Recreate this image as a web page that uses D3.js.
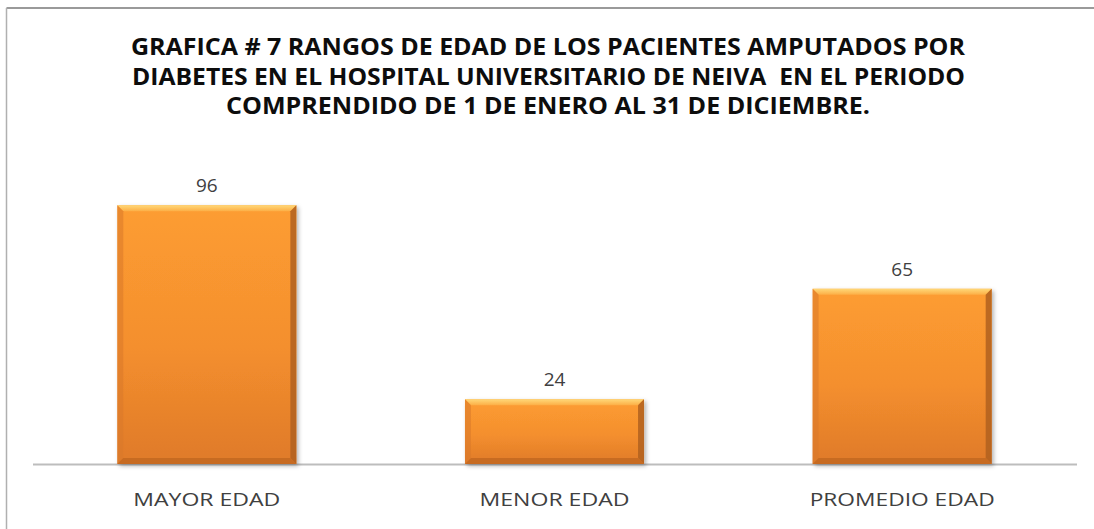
<!DOCTYPE html>
<html>
<head>
<meta charset="utf-8">
<script src="https://cdn.jsdelivr.net/npm/d3@7"></script>
<style>
  body { margin: 0; background: #fff; }
  svg { display: block; }
</style>
</head>
<body>
<div id="chart"></div>
<script>
// data
var categories = ["MAYOR EDAD", "MENOR EDAD", "PROMEDIO EDAD"];
var values = [96, 24, 65];
var titleLines = [
  "GRAFICA # 7 RANGOS DE EDAD DE LOS PACIENTES AMPUTADOS POR",
  "DIABETES EN EL HOSPITAL UNIVERSITARIO DE NEIVA  EN EL PERIODO",
  "COMPRENDIDO DE 1 DE ENERO AL 31 DE DICIEMBRE."
];
var yMax = 120;

var W = 1094, H = 529;
var base = 464;
var font = "'Open Sans', 'DejaVu Sans', sans-serif";

var svg = d3.select("#chart").append("svg")
  .attr("width", W)
  .attr("height", H);

var defs = svg.append("defs");

// body gradient
var g1 = defs.append("linearGradient").attr("id", "body")
  .attr("x1", 0).attr("y1", 0).attr("x2", 0).attr("y2", 1);
g1.append("stop").attr("offset", "0%").attr("stop-color", "#fd9d31");
g1.append("stop").attr("offset", "55%").attr("stop-color", "#f48f2e");
g1.append("stop").attr("offset", "100%").attr("stop-color", "#df7a29");

var g2 = defs.append("linearGradient").attr("id", "bevTop")
  .attr("x1", 0).attr("y1", 0).attr("x2", 0).attr("y2", 1);
g2.append("stop").attr("offset", "0%").attr("stop-color", "#ffd878");
g2.append("stop").attr("offset", "100%").attr("stop-color", "#fcae45");

var shadow = defs.append("filter").attr("id", "shadow")
  .attr("x", "-10%").attr("y", "-10%").attr("width", "125%").attr("height", "125%");
shadow.append("feDropShadow")
  .attr("dx", 2).attr("dy", 2).attr("stdDeviation", 2)
  .attr("flood-color", "#000").attr("flood-opacity", 0.3);

// frame (only top and left edges show)
svg.append("line")
  .attr("x1", 6.5).attr("y1", 8).attr("x2", W).attr("y2", 8)
  .attr("stroke", "#9a9a9a").attr("stroke-width", 2);
svg.append("line")
  .attr("x1", 6.5).attr("y1", 8).attr("x2", 6.5).attr("y2", H)
  .attr("stroke", "#b0b0b0").attr("stroke-width", 1.5);

// title
var titleX = [[131, 965], [132, 965], [226, 870]];
var titleY = [55, 85, 114];
svg.selectAll("text.title")
  .data(titleLines)
  .enter().append("text")
  .attr("class", "title")
  .attr("x", function(d, i) { return titleX[i][0]; })
  .attr("y", function(d, i) { return titleY[i]; })
  .attr("textLength", function(d, i) { return titleX[i][1] - titleX[i][0]; })
  .attr("lengthAdjust", "spacingAndGlyphs")
  .style("font-family", font)
  .style("font-weight", "bold")
  .style("font-size", "23.5px")
  .style("fill", "#0d0d0d")
  .style("white-space", "pre")
  .text(function(d) { return d; });

var x = d3.scaleBand()
  .domain(categories)
  .range([33, 1076])
  .paddingInner(0.485)
  .paddingOuter(0.2425);

var y = d3.scaleLinear()
  .domain([0, yMax])
  .range([base, base - yMax * 2.695]);

// baseline
svg.append("line")
  .attr("x1", 33).attr("x2", 1077)
  .attr("y1", base + 0.5).attr("y2", base + 0.5)
  .attr("stroke", "#bdbdbd").attr("stroke-width", 2);

var data = categories.map(function(c, i) { return { cat: c, val: values[i] }; });

var bars = svg.selectAll("g.bar")
  .data(data)
  .enter().append("g")
  .attr("class", "bar");

bars.append("rect")
  .attr("x", function(d) { return x(d.cat); })
  .attr("y", function(d) { return y(d.val); })
  .attr("width", x.bandwidth())
  .attr("height", function(d) { return base - y(d.val); })
  .attr("fill", "url(#body)")
  .attr("filter", "url(#shadow)");

var bev = 6;
// top bevel
bars.append("polygon")
  .attr("points", function(d) {
    var x0 = x(d.cat), x1 = x0 + x.bandwidth(), t = y(d.val);
    return [[x0, t], [x1, t], [x1 - bev, t + bev], [x0 + bev, t + bev]].join(" ");
  })
  .attr("fill", "url(#bevTop)");
// left bevel
bars.append("polygon")
  .attr("points", function(d) {
    var x0 = x(d.cat), t = y(d.val);
    return [[x0, t], [x0 + bev, t + bev], [x0 + bev, base - bev], [x0, base]].join(" ");
  })
  .attr("fill", "#d9782a").attr("opacity", 0.55);
// right bevel
bars.append("polygon")
  .attr("points", function(d) {
    var x1 = x(d.cat) + x.bandwidth(), t = y(d.val);
    return [[x1, t], [x1 - bev, t + bev], [x1 - bev, base - bev], [x1, base]].join(" ");
  })
  .attr("fill", "#b0601e").attr("opacity", 0.85);
// bottom bevel
bars.append("polygon")
  .attr("points", function(d) {
    var x0 = x(d.cat), x1 = x0 + x.bandwidth();
    return [[x0, base], [x0 + bev, base - bev], [x1 - bev, base - bev], [x1, base]].join(" ");
  })
  .attr("fill", "#c0661f").attr("opacity", 0.8);

// value labels
bars.append("text")
  .attr("x", function(d) { return x(d.cat) + x.bandwidth() / 2; })
  .attr("y", function(d) { return y(d.val) - 13; })
  .attr("text-anchor", "middle")
  .style("font-family", font)
  .style("font-size", "19px")
  .style("fill", "#404040")
  .text(function(d) { return d.val; });

// category labels
var catW = { "MAYOR EDAD": 147, "MENOR EDAD": 150, "PROMEDIO EDAD": 185 };
svg.selectAll("text.cat")
  .data(categories)
  .enter().append("text")
  .attr("class", "cat")
  .attr("x", function(d) { return x(d) + x.bandwidth() / 2 - catW[d] / 2; })
  .attr("y", 506)
  .attr("textLength", function(d) { return catW[d]; })
  .attr("lengthAdjust", "spacingAndGlyphs")
  .style("font-family", font)
  .style("font-size", "18px")
  .style("fill", "#404040")
  .text(function(d) { return d; });
</script>
</body>
</html>
